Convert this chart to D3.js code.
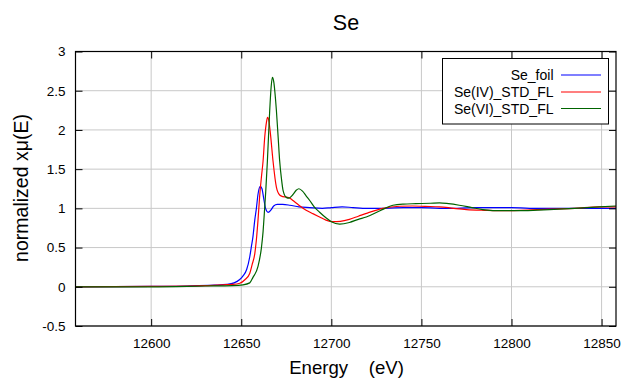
<!DOCTYPE html>
<html>
<head>
<meta charset="utf-8">
<script src="https://cdn.jsdelivr.net/npm/d3@7"></script>
<style>
html,body{margin:0;padding:0;background:#fff;}
text{font-family:"Liberation Sans",Arial,sans-serif;fill:#000;}
</style>
</head>
<body>
<svg id="chart" width="640" height="384"></svg>
<script>
const title = "Se";
const xLabel = "Energy    (eV)";
const yLabel = "normalized xμ(E)";
const xTicks = [12600, 12650, 12700, 12750, 12800, 12850];
const yTicks = [-0.5, 0, 0.5, 1, 1.5, 2, 2.5, 3];
const seriesNames = ["Se_foil", "Se(IV)_STD_FL", "Se(VI)_STD_FL"];
const seriesColors = ["#0000ff", "#ff0000", "#006400"];

const foilE = [12558,12580,12600,12620,12635,12642,12646,12649,12651,12653,12654.7,12655.6,12656.5,12657.5,12658.4,12659.3,12660.6,12661.5,12662.5,12663.5,12664.9,12666.5,12668,12670,12673,12677,12682,12688,12695,12700,12706,12712,12720,12730,12740,12750,12760,12770,12780,12790,12800,12810,12820,12830,12840,12850,12858];
const foilV = [0,0.002,0.005,0.01,0.02,0.03,0.05,0.09,0.14,0.22,0.38,0.51,0.64,0.85,1.0,1.18,1.28,1.25,1.12,1.0,0.95,0.98,1.03,1.05,1.05,1.04,1.02,1.01,1.0,1.01,1.02,1.01,1.0,1.0,1.01,1.01,1.0,1.0,1.01,1.01,1.01,1.0,1.0,1.0,1.0,1.0,1.0];

const se4E = [12558,12600,12630,12640,12645,12649.2,12652,12654.7,12656,12657.5,12658.4,12659.3,12660.2,12661.2,12662.1,12663,12664,12664.6,12665.3,12666.2,12667.6,12669.5,12671.3,12673,12675,12677,12678.7,12682,12686,12690,12693.5,12697,12700.9,12705,12710,12715,12720,12728.6,12737.9,12745,12752,12760,12768,12775,12785,12793,12805,12821,12835,12848.7,12858];
const se4V = [0,0.005,0.015,0.025,0.03,0.045,0.09,0.17,0.28,0.42,0.6,0.85,1.15,1.4,1.6,1.9,2.1,2.16,2.12,1.95,1.61,1.27,1.17,1.15,1.145,1.13,1.10,1.04,0.976,0.93,0.89,0.85,0.83,0.835,0.86,0.9,0.94,1.0,1.027,1.03,1.025,1.02,1.0,0.985,0.975,0.97,0.975,0.99,1.0,1.02,1.02];

const se6E = [12558,12600,12630,12645,12651,12654.7,12656.5,12659.3,12661.2,12662.1,12662.7,12663.6,12664.5,12665.8,12666.6,12667.3,12668,12669.5,12670.5,12671.3,12672.3,12673.2,12675,12676.5,12678.5,12680.5,12682,12684,12686,12688,12690.5,12693.5,12697,12700,12704.6,12710,12715,12719.4,12727,12734.2,12740,12747,12755,12760,12765,12771,12778,12784,12795,12802.6,12812,12821,12835,12849,12858];
const se6V = [0,0,0.01,0.015,0.025,0.05,0.12,0.26,0.5,0.7,0.9,1.22,1.6,2.25,2.55,2.67,2.62,2.25,1.9,1.61,1.38,1.23,1.14,1.13,1.17,1.23,1.25,1.22,1.16,1.10,1.02,0.95,0.88,0.83,0.80,0.82,0.86,0.89,0.97,1.04,1.055,1.06,1.065,1.07,1.06,1.04,1.01,0.985,0.97,0.97,0.975,0.985,1.0,1.02,1.03];

const seriesE = [foilE, se4E, se6E];
const seriesV = [foilV, se4V, se6V];

const svg = d3.select("#chart");
const L = 75.5, R = 616, T = 51.5, B = 326;
const x = d3.scaleLinear().domain([12558, 12858]).range([L, R]);
const y = d3.scaleLinear().domain([-0.5, 3]).range([B, T]);

// grid
const g = svg.append("g");
g.selectAll(".gx").data(xTicks).join("line")
  .attr("x1", d => x(d)).attr("x2", d => x(d)).attr("y1", T).attr("y2", B)
  .attr("stroke", "#c8c8c8").attr("stroke-width", 1);
g.selectAll(".gy").data(yTicks).join("line")
  .attr("x1", L).attr("x2", R).attr("y1", d => y(d)).attr("y2", d => y(d))
  .attr("stroke", "#c8c8c8").attr("stroke-width", 1);

// curves
svg.append("defs").append("clipPath").attr("id", "clip")
  .append("rect").attr("x", L).attr("y", T).attr("width", R - L).attr("height", B - T);
const line = d3.line().x(d => x(d[0])).y(d => y(d[1])).curve(d3.curveMonotoneX);
const order = [0, 1, 2];
order.forEach(i => {
  const pts = seriesE[i].map((e, k) => [e, seriesV[i][k]]);
  svg.append("path").attr("d", line(pts)).attr("fill", "none")
    .attr("stroke", seriesColors[i]).attr("stroke-width", 1.2)
    .attr("clip-path", "url(#clip)");
});

// axes (ticks inward on all sides)
const tl = 7;
svg.append("g").attr("transform", `translate(0,${B})`)
  .call(d3.axisBottom(x).tickValues(xTicks).tickSize(-tl).tickPadding(12).tickFormat(d3.format("d")))
  .call(a => { a.select(".domain").remove(); a.selectAll("text").attr("font-size", "13.5px").attr("font-family", "Liberation Sans, Arial, sans-serif"); });
svg.append("g").attr("transform", `translate(0,${T})`)
  .call(d3.axisTop(x).tickValues(xTicks).tickSize(-tl).tickFormat(""))
  .call(a => a.select(".domain").remove());
svg.append("g").attr("transform", `translate(${L},0)`)
  .call(d3.axisLeft(y).tickValues(yTicks).tickSize(-tl).tickPadding(10).tickFormat(d => String(d)))
  .call(a => { a.select(".domain").remove(); a.selectAll("text").attr("font-size", "13.5px").attr("font-family", "Liberation Sans, Arial, sans-serif"); });
svg.append("g").attr("transform", `translate(${R},0)`)
  .call(d3.axisRight(y).tickValues(yTicks).tickSize(-tl).tickFormat(""))
  .call(a => a.select(".domain").remove());
svg.selectAll(".tick line").attr("stroke", "#000");

svg.append("rect").attr("x", L).attr("y", T).attr("width", R - L).attr("height", B - T)
  .attr("fill", "none").attr("stroke", "#000").attr("stroke-width", 1.2);

// titles
svg.append("text").attr("x", 346).attr("y", 30).attr("text-anchor", "middle")
  .attr("font-size", "21.5px").text(title);
svg.append("text").attr("x", 346.5).attr("y", 373.5).attr("text-anchor", "middle")
  .attr("font-size", "18.6px").style("white-space", "pre").text(xLabel);
svg.append("text").attr("transform", "translate(28,188) rotate(-90)").attr("text-anchor", "middle")
  .attr("font-size", "19.5px").text(yLabel);

// legend
const lg = svg.append("g");
lg.append("rect").attr("x", 442.5).attr("y", 58.5).attr("width", 166).attr("height", 65.5)
  .attr("fill", "#fff").attr("stroke", "#000").attr("stroke-width", 1);
const ly = [75, 92, 108.5];
seriesNames.forEach((n, i) => {
  lg.append("text").attr("x", 553.5).attr("y", ly[i] + 5).attr("text-anchor", "end")
    .attr("font-size", "14px").text(n);
  lg.append("line").attr("x1", 561).attr("x2", 601).attr("y1", ly[i]).attr("y2", ly[i])
    .attr("stroke", seriesColors[i]).attr("stroke-width", 1.2);
});
</script>
</body>
</html>
